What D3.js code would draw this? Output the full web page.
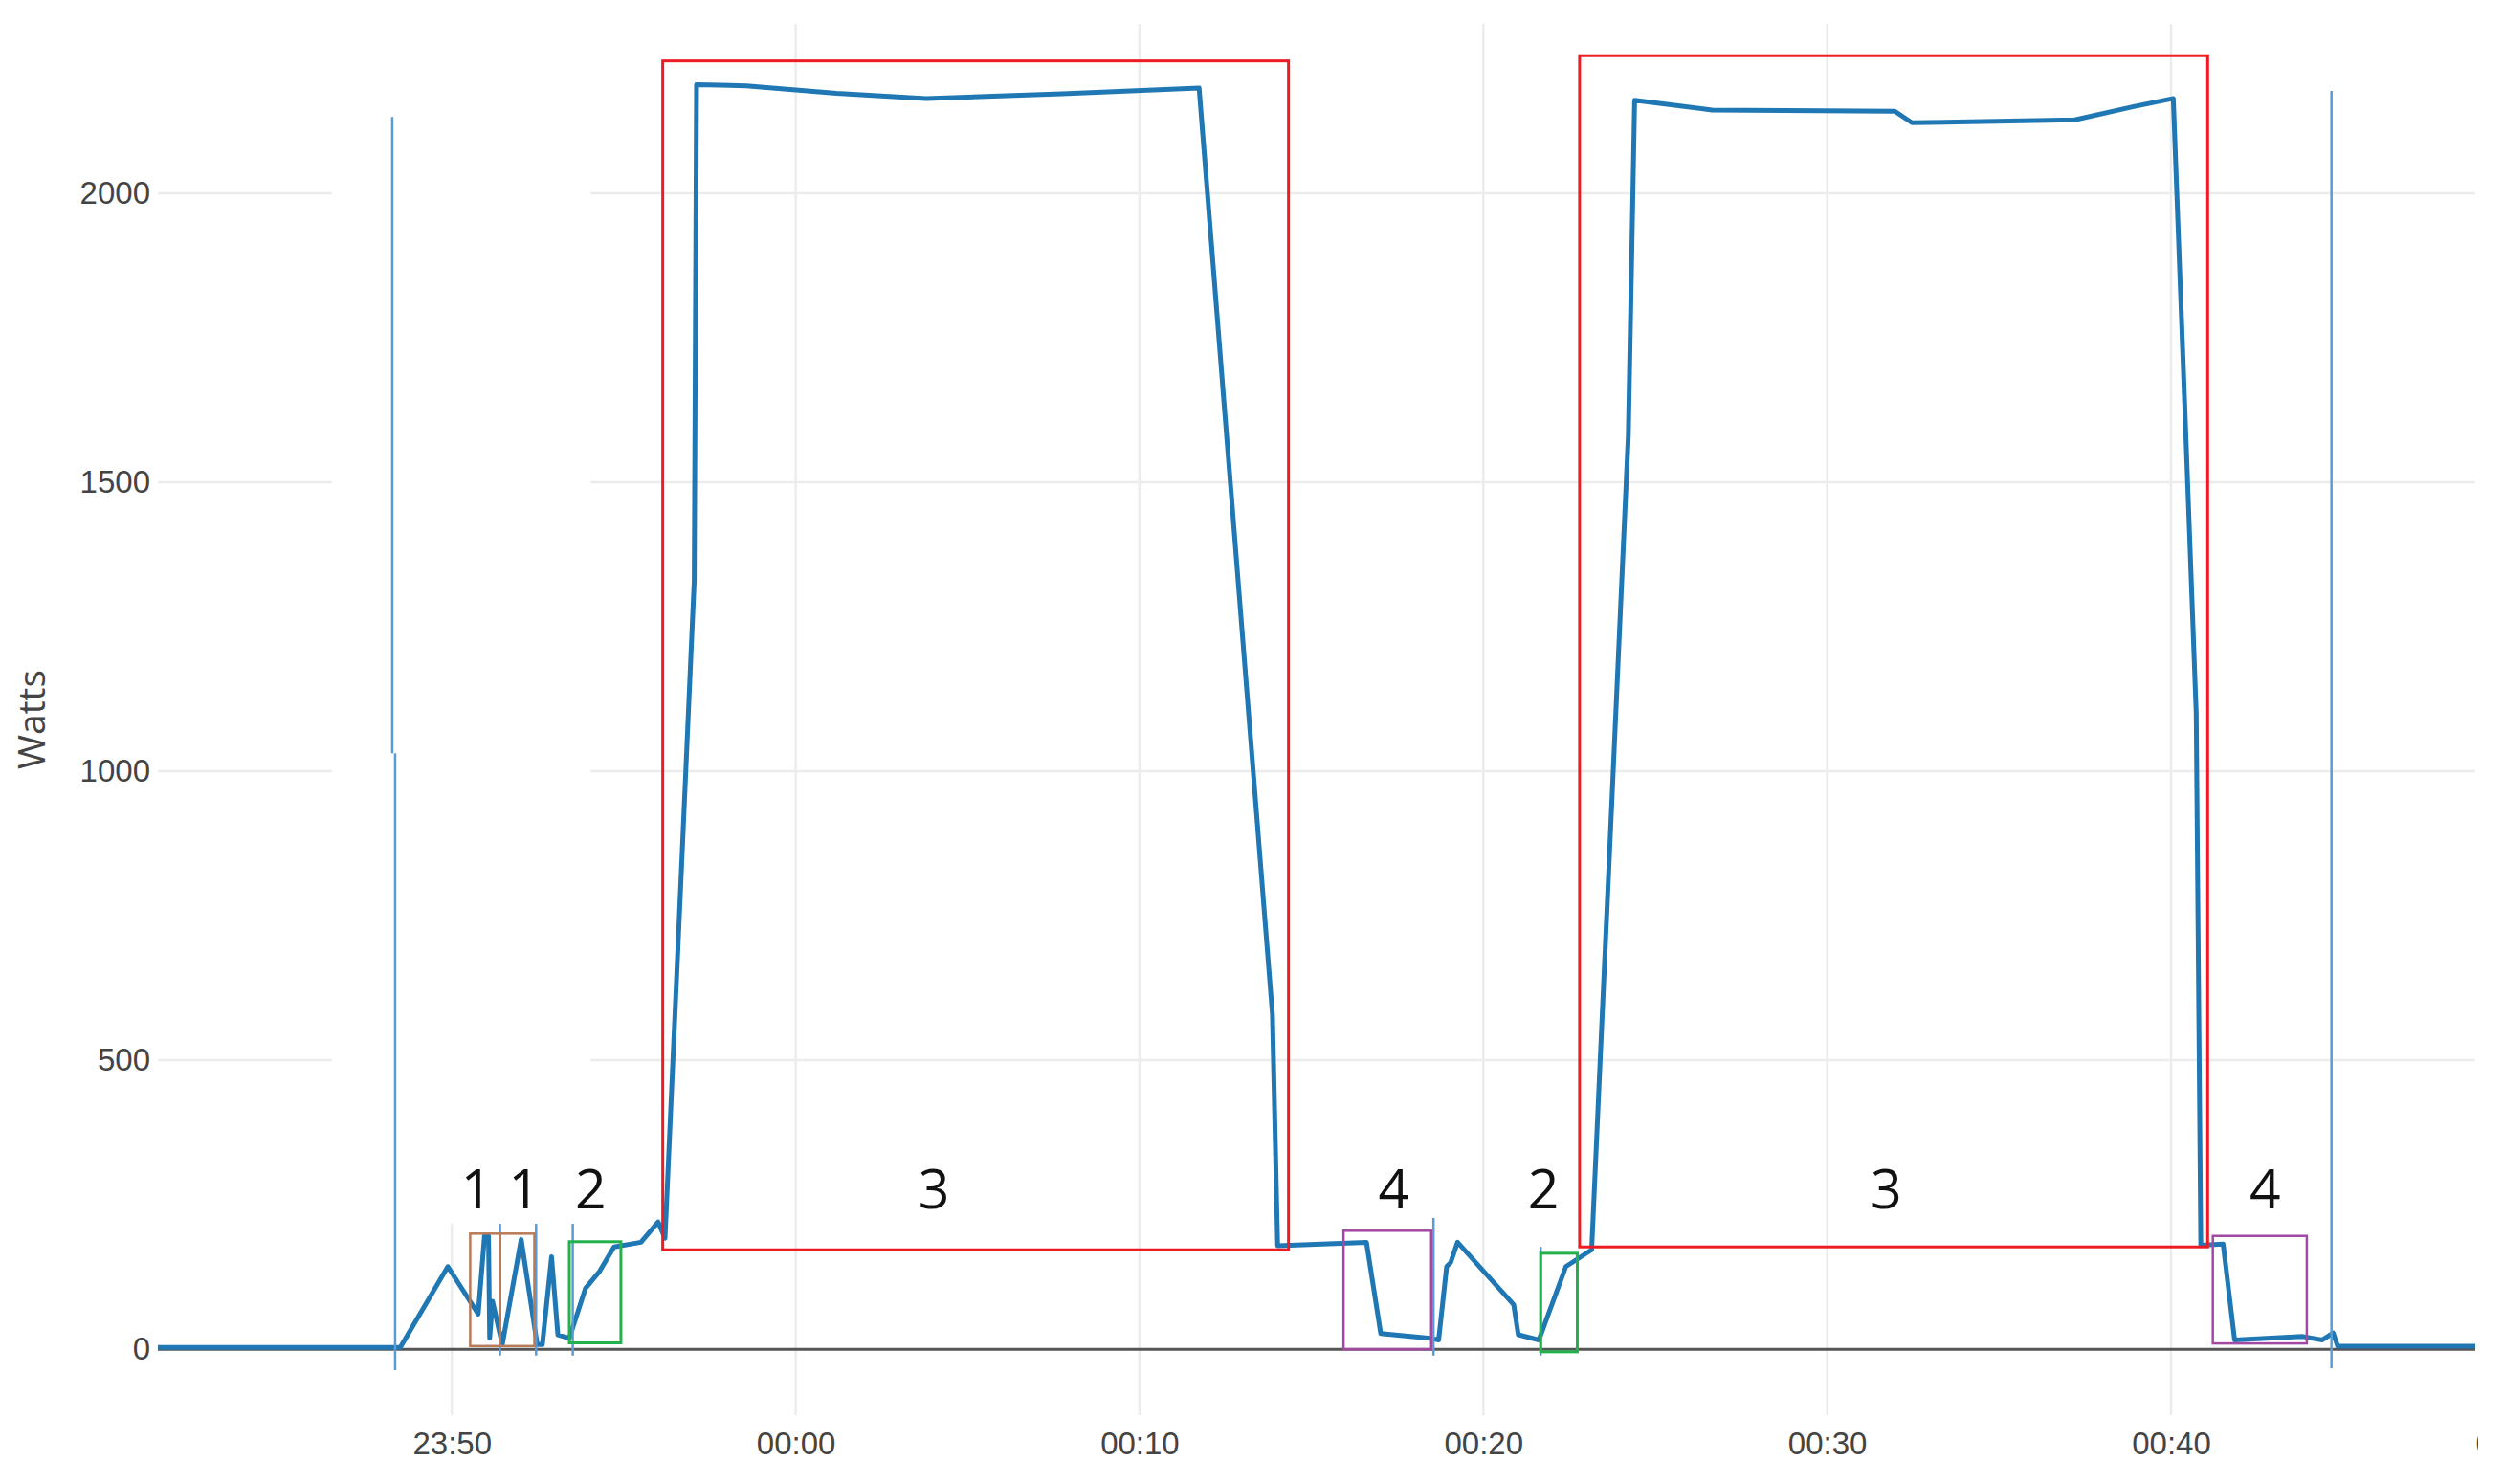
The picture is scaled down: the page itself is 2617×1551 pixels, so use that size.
<!DOCTYPE html>
<html>
<head>
<meta charset="utf-8">
<style>
body { margin: 0; background: #fff; }
svg { display: block; font-family: "Open Sans", sans-serif; }
.grid line { stroke: #ececec; stroke-width: 2.5px; }
.axis text { fill: #444; font-size: 33px; }
.axis path { display: none; }
.notes text { font-size: 57px; fill: #111; text-anchor: middle; }
</style>
</head>
<body>
<svg width="2617" height="1551"></svg>

<script src="https://cdn.jsdelivr.net/npm/d3@7/dist/d3.min.js"></script>
<script>
// readings (time of day, watts) - crosses midnight
var times = ["23:41:27","23:48:30","23:49:53","23:50:46","23:50:57","23:51:04","23:51:06","23:51:11",
  "23:51:28","23:52:01","23:52:29","23:52:38","23:52:54","23:53:05","23:53:25","23:53:53","23:54:18",
  "23:54:43","23:55:30","23:56:00","23:56:12","23:57:03","23:57:07","23:58:34","00:01:11","00:03:48",
  "00:07:45","00:11:44","00:13:52","00:14:01","00:16:36","00:17:01","00:18:28","00:18:42","00:18:56",
  "00:19:03","00:19:15","00:20:53","00:21:01","00:21:37","00:22:24","00:23:09","00:24:13","00:24:24",
  "00:26:39","00:31:58","00:32:28","00:37:12","00:38:55","00:40:04","00:40:44","00:40:52","00:41:31",
  "00:41:51","00:43:50","00:44:24","00:44:43","00:44:51","00:48:51"];
var watts = [3,3,143,61,196,196,19,83,
  8,190,8,8,160,25,19,105,135,
  177,185,220,192,1330,2188,2186,2173,2164,
  2172,2182,579,179,185,27,19,16,143,
  150,185,77,25,16,143,172,1581,2161,
  2144,2142,2122,2127,2150,2164,1100,180,182,
  16,22,16,28,5,5];

var tickTimes = ["23:50:00","00:00:00","00:10:00","00:20:00","00:30:00","00:40:00","00:50:00"];
var tickLabels = ["23:50","00:00","00:10","00:20","00:30","00:40","00:50"];
var yTicks = [0, 500, 1000, 1500, 2000];

// hand-drawn annotation boxes (phase number, time span, watt span)
var boxPhase = [1, 1, 2, 3, 4, 2, 3, 4];
var boxStart = ["23:50:32","23:51:24","23:53:25","23:56:08","00:15:56","00:21:40","00:22:48","00:41:13"];
var boxEnd   = ["23:51:24","23:52:24","23:54:55","00:14:20","00:18:29","00:22:44","00:41:04","00:43:57"];
var boxHigh  = [200, 200, 186, 2229, 205, 166, 2238, 196];
var boxLow   = [5.5, 5.5, 11, 172, 0, -4.5, 177, 10];
var labelTimes = ["23:50:43","23:52:06","23:54:02","00:04:01","00:17:24","00:21:45","00:31:43","00:42:44"];

// thin marker lines drawn over the chart
var markTimes = ["23:48:16","23:48:21","23:51:24","23:52:27","23:53:31","00:18:33","00:21:40","00:44:40"];
var markHigh  = [2132, 1031, 217, 217, 217, 227, 177, 2177];
var markLow   = [1031, -36, -11, -11, -11, -11, -11, -33];

var phaseColor = {1: "#b97a57", 2: "#22b14c", 3: "#ed1c24", 4: "#a349a4"};
var phaseWidth = {1: 2.5, 2: 3, 3: 3, 4: 2.5};

var parse = d3.timeParse("%Y-%m-%d %H:%M:%S");
function parseTime(s) {
  var d = parse("2017-01-01 " + s);
  if (d.getHours() < 12) d = d3.timeDay.offset(d, 1);
  return d;
}

var root = d3.select("svg");

// the original screenshot stops a little before the right edge
root.append("clipPath")
    .attr("id", "shot")
  .append("rect")
    .attr("width", 2590)
    .attr("height", 1551);

var svg = root.append("g").attr("clip-path", "url(#shot)");

var x = d3.scaleTime()
    .domain([parseTime(times[0]), parseTime(times[times.length - 1])])
    .range([165, 2587]);

var y = d3.scaleLinear()
    .domain([-114, 2293])
    .range([1479, 25]);

var data = times.map(function(t, i) { return {t: parseTime(t), w: watts[i]}; });

// gridlines
var grid = svg.append("g").attr("class", "grid");
grid.selectAll("line.h")
    .data(yTicks.slice(1))
  .enter().append("line")
    .attr("class", "h")
    .attr("x1", x.range()[0])
    .attr("x2", x.range()[1])
    .attr("y1", function(d) { return y(d); })
    .attr("y2", function(d) { return y(d); });
grid.selectAll("line.v")
    .data(tickTimes.slice(0, 6))
  .enter().append("line")
    .attr("class", "v")
    .attr("x1", function(d) { return x(parseTime(d)); })
    .attr("x2", function(d) { return x(parseTime(d)); })
    .attr("y1", y.range()[1])
    .attr("y2", y.range()[0]);

// area that was painted over in the original screenshot
svg.append("rect")
    .attr("x", x(parseTime("23:46:31")))
    .attr("y", y.range()[1])
    .attr("width", x(parseTime("23:54:02")) - x(parseTime("23:46:31")))
    .attr("height", y(217) - y.range()[1])
    .attr("fill", "#fff");

// axes
svg.append("g")
    .attr("class", "axis")
    .attr("transform", "translate(0," + y.range()[0] + ")")
    .call(d3.axisBottom(x)
        .tickValues(tickTimes.map(parseTime))
        .tickFormat(function(d, i) { return tickLabels[i]; })
        .tickSize(0)
        .tickPadding(18));

svg.append("g")
    .attr("class", "axis")
    .attr("transform", "translate(" + x.range()[0] + ",0)")
    .call(d3.axisLeft(y)
        .tickValues(yTicks)
        .tickFormat(d3.format("d"))
        .tickSize(0)
        .tickPadding(8));

svg.append("text")
    .attr("transform", "translate(33," + (y.range()[0] + y.range()[1]) / 2 + ") rotate(-90)")
    .attr("y", 14)
    .attr("text-anchor", "middle")
    .attr("fill", "#444")
    .style("font-size", "39px")
    .text("Watts");

// zero line
svg.append("line")
    .attr("x1", x.range()[0])
    .attr("x2", x.range()[1])
    .attr("y1", y(0))
    .attr("y2", y(0))
    .attr("stroke", "#555")
    .attr("stroke-width", 3);

// the series
var line = d3.line()
    .x(function(d) { return x(d.t); })
    .y(function(d) { return y(d.w); });

svg.append("path")
    .datum(data)
    .attr("fill", "none")
    .attr("stroke", "#1f77b4")
    .attr("stroke-width", 5)
    .attr("stroke-linejoin", "round")
    .attr("d", line);

// markers
svg.append("g").selectAll("line")
    .data(markTimes)
  .enter().append("line")
    .attr("x1", function(d) { return x(parseTime(d)); })
    .attr("x2", function(d) { return x(parseTime(d)); })
    .attr("y1", function(d, i) { return y(markHigh[i]); })
    .attr("y2", function(d, i) { return y(markLow[i]); })
    .attr("stroke", "#5b9bd5")
    .attr("stroke-width", 2.5);

// boxes + numbers
var notes = svg.append("g").attr("class", "notes");
notes.selectAll("rect")
    .data(boxPhase)
  .enter().append("rect")
    .attr("x", function(d, i) { return x(parseTime(boxStart[i])); })
    .attr("y", function(d, i) { return y(boxHigh[i]); })
    .attr("width", function(d, i) { return x(parseTime(boxEnd[i])) - x(parseTime(boxStart[i])); })
    .attr("height", function(d, i) { return y(boxLow[i]) - y(boxHigh[i]); })
    .attr("fill", "none")
    .attr("stroke", function(d) { return phaseColor[d]; })
    .attr("stroke-width", function(d) { return phaseWidth[d]; });

notes.selectAll("text")
    .data(boxPhase)
  .enter().append("text")
    .attr("x", function(d, i) { return x(parseTime(labelTimes[i])); })
    .attr("y", y(243))
    .text(function(d) { return d; });
</script>
</body>
</html>
